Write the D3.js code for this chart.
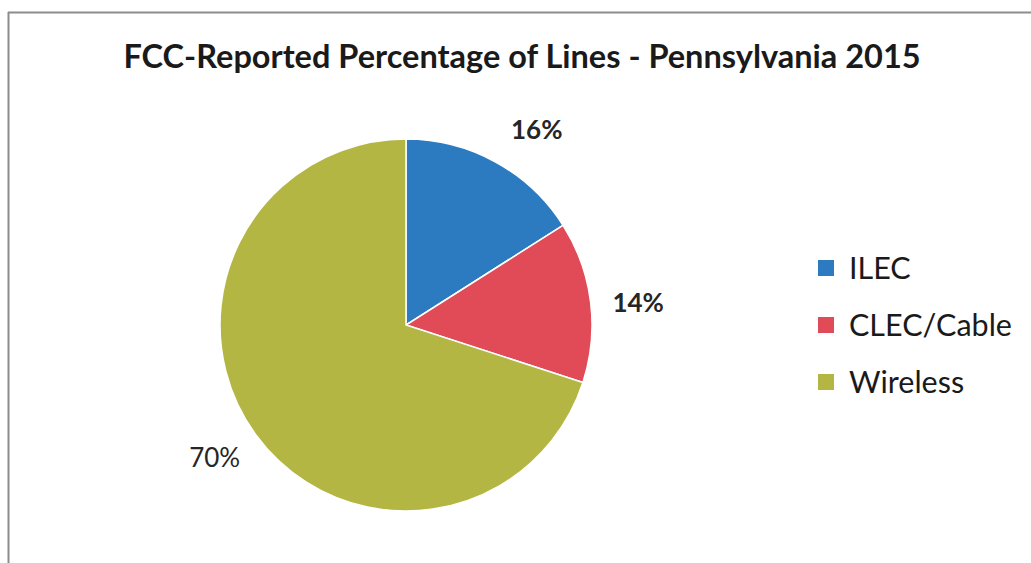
<!DOCTYPE html>
<html>
<head>
<meta charset="utf-8">
<script src="https://cdn.jsdelivr.net/npm/d3@7"></script>
<style>
  body { margin: 0; background: #fff; }
  svg { font-family: Lato, "Open Sans", sans-serif; }
</style>
</head>
<body>
<svg width="1031" height="563"></svg>
<script>
// data
const categories = ["ILEC", "CLEC/Cable", "Wireless"]
const shares = [16, 14, 70]
const labels = ["16%", "14%", "70%"]
const colors = ["#2c7bc0", "#e04b57", "#b4b644"]

const svg = d3.select("svg")

// frame (top and left edge only visible)
svg.append("line")
  .attr("x1", 8).attr("y1", 12.5).attr("x2", 1031).attr("y2", 12.5)
  .attr("stroke", "#8c8c8c").attr("stroke-width", 2)
svg.append("line")
  .attr("x1", 8.5).attr("y1", 12).attr("x2", 8.5).attr("y2", 563)
  .attr("stroke", "#8c8c8c").attr("stroke-width", 2)

// title
svg.append("text")
  .attr("x", 522)
  .attr("y", 68)
  .attr("text-anchor", "middle")
  .attr("font-weight", "bold")
  .attr("font-size", 32.5)
  .attr("fill", "#1a1a1a")
  .text("FCC-Reported Percentage of Lines - Pennsylvania 2015")

// pie
const cx = 406, cy = 325, r = 186
const pie = d3.pie().sort(null).value(d => d)
const arcs = pie(shares)

const arc = d3.arc().innerRadius(0).outerRadius(r)
const labelArc = d3.arc().innerRadius(234).outerRadius(234)
const nudge = [[18, 10], [0, 7], [-2, -5]] // small label tweaks, like excel's placement

const g = svg.append("g").attr("transform", `translate(${cx},${cy})`)

g.selectAll("path.slice")
  .data(arcs)
  .enter()
  .append("path")
  .attr("class", "slice")
  .attr("d", arc)
  .attr("fill", (d, i) => colors[i])
  .attr("stroke", "#fff")
  .attr("stroke-width", 1.5)

g.selectAll("text.pct")
  .data(arcs)
  .enter()
  .append("text")
  .attr("class", "pct")
  .attr("transform", (d, i) => {
    const [x, y] = labelArc.centroid(d)
    return `translate(${x + nudge[i][0]},${y + nudge[i][1]})`
  })
  .attr("text-anchor", "middle")
  .attr("dy", "0.35em")
  .attr("font-size", 26)
  .attr("font-weight", (d, i) => i < 2 ? "bold" : "normal")
  .attr("fill", "#262626")
  .text((d, i) => labels[i])

// legend
const legend = svg.selectAll("g.legend")
  .data(categories)
  .enter()
  .append("g")
  .attr("class", "legend")
  .attr("transform", (d, i) => `translate(818,${268 + i * 57})`)

legend.append("rect")
  .attr("x", 0).attr("y", -8)
  .attr("width", 16).attr("height", 16)
  .attr("fill", (d, i) => colors[i])

legend.append("text")
  .attr("x", 31)
  .attr("dy", "0.35em")
  .attr("font-size", 30.5)
  .attr("fill", "#1a1a1a")
  .text(d => d)
</script>
</body>
</html>
